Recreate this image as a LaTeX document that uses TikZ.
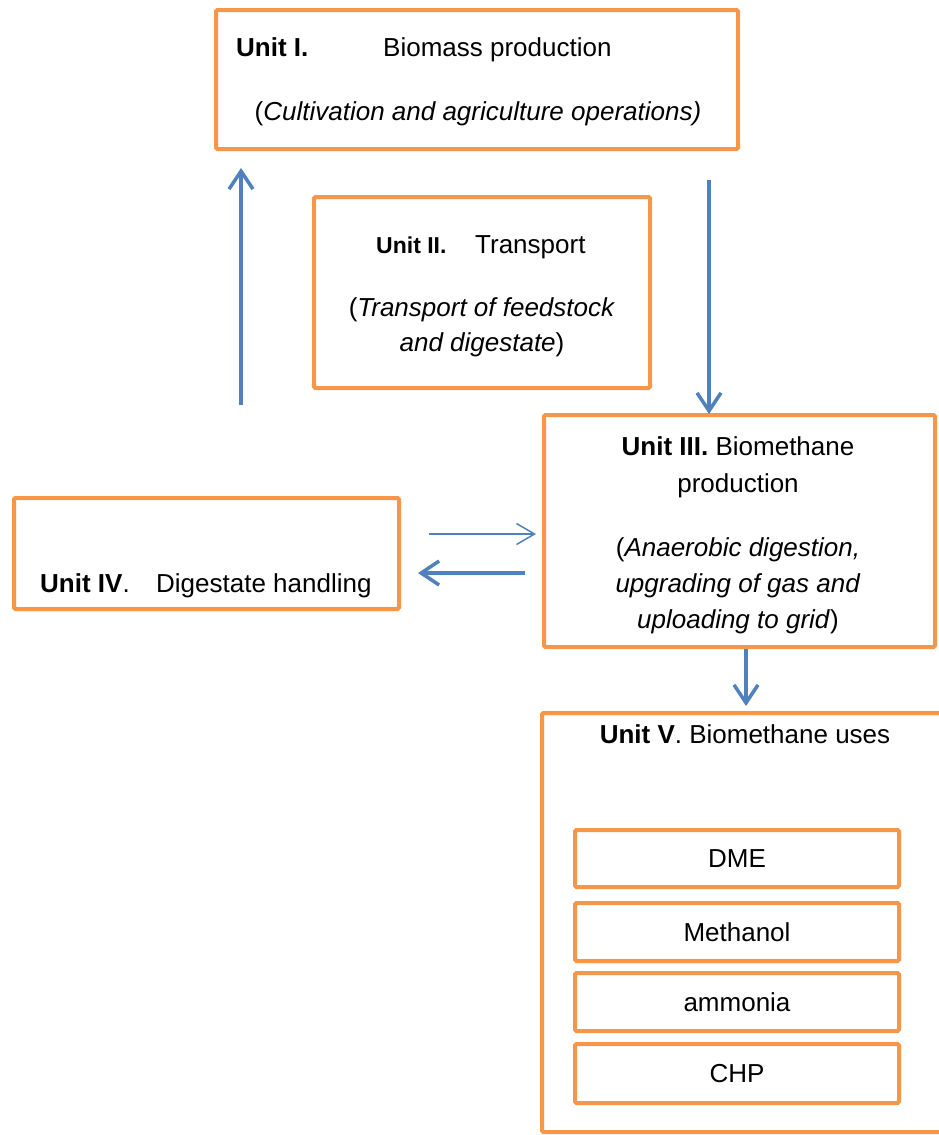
\documentclass[tikz,border=0pt]{standalone}
\usepackage{fontspec}
\setmainfont{Liberation Sans}
\usetikzlibrary{arrows.meta}
\definecolor{boxorange}{HTML}{F79646}
\definecolor{arrowblue}{HTML}{4F81BD}
\begin{document}
\begin{tikzpicture}[x=1pt,y=-1pt,
  box/.style={draw=boxorange,line width=4pt,rounded corners=1.5pt,inner sep=0pt,fill=white},
  txt/.style={inner sep=0pt,font=\fontsize{26}{31}\selectfont,anchor=base},
  txtw/.style={txt,anchor=base west},
  thickarrow/.style={draw=arrowblue,line width=3.5pt,-{Straight Barb[length=18pt,width=24pt]}},
  thinarrow/.style={draw=arrowblue,line width=1.5pt,-{Straight Barb[length=18pt,width=21pt]}}
]
\useasboundingbox (0,0) rectangle (939,1135);
\clip (0,0) rectangle (939,1135);
\fill[white] (0,0) rectangle (939,1135);

% boxes
\node[box,minimum width=522pt,minimum height=139pt] (u1) at (477,79.5) {};
\node[box,minimum width=336pt,minimum height=191pt] (u2) at (482,292.5) {};
\node[box,minimum width=391pt,minimum height=232pt] (u3) at (739.5,531) {};
\node[box,minimum width=385pt,minimum height=111pt] (u4) at (206.5,553.5) {};
\node[box,minimum width=423pt,minimum height=419pt] (u5) at (753.5,922.5) {};
\node[box,minimum width=324pt,minimum height=57pt] (dme) at (737,858.5) {};
\node[box,minimum width=324pt,minimum height=58pt] (meth) at (737,932) {};
\node[box,minimum width=324pt,minimum height=58pt] (amm) at (737,1002) {};
\node[box,minimum width=324pt,minimum height=59pt] (chp) at (737,1073.5) {};

% texts Unit I
\node[txtw] (t1a) at (236,56) {\bfseries Unit I.};
\node[txtw] (t1b) at (383,56) {Biomass production};
\node[txt] (t1c) at (478,120) {(\itshape Cultivation and agriculture operations)};
% Unit II
\node[txtw,font=\fontsize{23}{28}\selectfont\bfseries] (t2a) at (376,253) {Unit II.};
\node[txtw] (t2b) at (475,253) {Transport};
\node[txt] (t2c) at (482,316) {(\textit{Transport of feedstock}};
\node[txt] (t2d) at (482,351) {\textit{and digestate})};
% Unit III
\node[txt] (t3a) at (738,455) {\textbf{Unit III.} Biomethane};
\node[txt] (t3b) at (738,492) {production};
\node[txt] (t3c) at (738,556) {(\textit{Anaerobic digestion,}};
\node[txt] (t3d) at (738,592) {\textit{upgrading of gas and}};
\node[txt] (t3e) at (738,628) {\textit{uploading to grid})};
% Unit IV
\node[txtw] (t4a) at (40,592) {\textbf{Unit IV}.};
\node[txtw] (t4b) at (156,592) {Digestate handling};
% Unit V
\node[txt] (t5a) at (745,743) {\textbf{Unit V}. Biomethane uses};
\node[txt] at (dme.center) [yshift=-9pt] {DME};
\node[txt] at (meth.center) [yshift=-9pt] {Methanol};
\node[txt] at (amm.center) [yshift=-9pt] {ammonia};
\node[txt] at (chp.center) [yshift=-9pt] {CHP};

% arrow coordinates
\coordinate (upS) at (241,405);
\coordinate (upE) at (241,168);
\coordinate (dnS) at (709,180);
\coordinate (dnE) at (709,414);
\coordinate (rS) at (429,534);
\coordinate (rE) at (536,534);
\coordinate (lS) at (525,573);
\coordinate (lE) at (418,573);
\coordinate (d5S) at (746,649);
\coordinate (d5E) at (746,706);

\draw[thickarrow] (upS) -- (upE);
\draw[thickarrow] (dnS) -- (dnE);
\draw[thinarrow] (rS) -- (rE);
\draw[thickarrow] (lS) -- (lE);
\draw[thickarrow] (d5S) -- (d5E);
\end{tikzpicture}
\end{document}
